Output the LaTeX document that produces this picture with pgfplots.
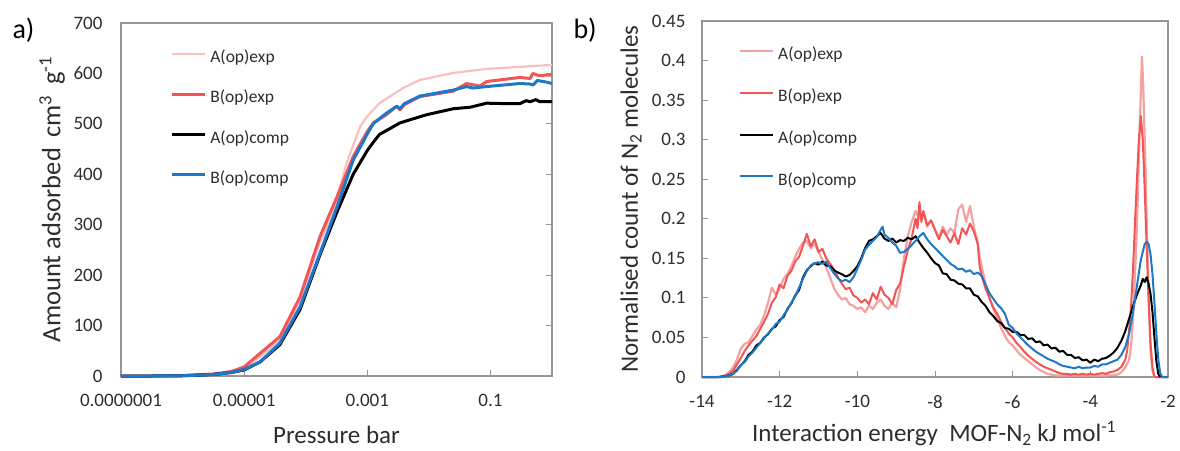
\documentclass[border=0pt]{standalone}
\usepackage{fontspec}
\setmainfont{Carlito}
\usepackage{pgfplots}
\pgfplotsset{compat=1.18}
\definecolor{pinkL}{RGB}{250,192,192}
\definecolor{pinkR}{RGB}{247,160,160}
\definecolor{redS}{RGB}{242,85,85}
\definecolor{blueS}{RGB}{30,120,200}
\definecolor{frame}{RGB}{150,150,150}
\definecolor{txt}{RGB}{45,45,45}
\begin{document}
\begin{tikzpicture}
\path[use as bounding box] (0,0) rectangle (1180pt,450pt);
\pgfplotsset{
  common/.style={
    scale only axis, clip=false,
    tick align=inside, major tick length=6pt,
    tick style={draw=frame, line width=1pt},
    axis line style={draw=frame, line width=1.3pt},
    tick label style={font=\fontsize{19}{22}\selectfont, text=txt},
    /pgf/number format/assume math mode=true,
    label style={font=\fontsize{25}{30}\selectfont, text=txt},
    xticklabel style={yshift=-15pt},
    legend cell align=left,
    legend image code/.code={\draw[##1] (0pt,0.3em) -- (33pt,0.3em); \path (37pt,0.3em);},
    every axis plot/.append style={line join=round},
  }
}
\begin{axis}[common,
  at={(121pt,74pt)}, anchor=south west, width=431pt, height=353pt,
  xmode=log, xmin=1e-7, xmax=1, ymin=0, ymax=700,
  xtick={1e-7,1e-5,1e-3,1e-1}, xticklabels={0.0000001,0.00001,0.001,0.1},
  xminorticks=false, yminorticks=false,
  ytick={0,100,200,300,400,500,600,700}, yticklabels={0,100,200,300,400,500,600,700},
  xtick pos=bottom, ytick pos=right, yticklabel pos=left,
  yticklabel style={xshift=-15pt},
  xlabel={Pressure bar},
  ylabel={Amount adsorbed\, cm\textsuperscript{3}\, g\textsuperscript{-1}},
  x label style={at={(axis description cs:0.5,-0.166)}, anchor=center},
  y label style={at={(axis description cs:-0.160,0.5)}, anchor=center, font=\fontsize{26.5}{30}\selectfont},
  legend style={at={(axis description cs:0.114,0.924)}, anchor=north west, draw=none, fill=none,
    inner sep=0pt, row sep=25.8pt, font=\fontsize{17.5}{21}\selectfont, text=txt, nodes={inner sep=0pt}},
]
\addplot[pinkL, line width=2.2pt] coordinates {(1e-7,0)(3.16e-7,0)(1e-6,1)(3.16e-6,3)(6.3e-6,8)(1e-5,15)(1.82e-5,38)(3.8e-5,70)(8.1e-5,150)(1.7e-4,265)(2.8e-4,323)(4.5e-4,418)(7.6e-4,494)(9.8e-4,514)(1.58e-3,541)(3.8e-3,571)(7.1e-3,587)(2.5e-2,601)(8.7e-2,609)(0.3,613)(1,617)};
\addlegendentry{A(op)exp}
\addplot[redS, line width=3pt] coordinates {(1e-7,0)(3.16e-7,0)(1e-6,1)(3.16e-6,4)(6.3e-6,9)(1e-5,18)(1.82e-5,45)(3.8e-5,78)(8.1e-5,157)(1.7e-4,276)(3.24e-4,356)(5.9e-4,435)(1e-3,485)(1.26e-3,502)(2.04e-3,518)(3e-3,535)(3.4e-3,528)(4e-3,538)(7.1e-3,554)(2.5e-2,565)(4.1e-2,580)(6.8e-2,575)(8.7e-2,584)(0.3,592)(0.44,590)(0.49,600)(0.6,596)(1,597)};
\addlegendentry{B(op)exp}
\addplot[black, line width=3pt] coordinates {(1e-7,0)(3.16e-7,0)(1e-6,0.5)(3.16e-6,3)(6.3e-6,7)(1e-5,12)(1.82e-5,28)(3.8e-5,62)(8.1e-5,132)(1.7e-4,240)(3.24e-4,326)(5.9e-4,400)(1e-3,447)(1.26e-3,464)(1.58e-3,479)(3.4e-3,502)(9.1e-3,518)(2.5e-2,530)(4.7e-2,533)(8.7e-2,541)(0.2,540)(0.3,540)(0.38,546)(0.44,544)(0.55,548)(0.63,544)(1,544)};
\addlegendentry{A(op)comp}
\addplot[blueS, line width=3pt] coordinates {(1e-7,0)(3.16e-7,0)(1e-6,0.5)(3.16e-6,3)(6.3e-6,7)(1e-5,13)(1.82e-5,28)(3.8e-5,65)(8.1e-5,137)(1.7e-4,243)(3.24e-4,336)(5.9e-4,428)(1e-3,480)(1.26e-3,501)(2.04e-3,521)(3e-3,535)(3.4e-3,530)(4e-3,540)(7.1e-3,555)(2.5e-2,567)(4.1e-2,574)(5.2e-2,571)(8.7e-2,574)(0.3,580)(0.44,579)(0.49,577)(0.58,586)(0.8,583)(1,580)};
\addlegendentry{B(op)comp}
\end{axis}
\begin{axis}[common,
  at={(702pt,73pt)}, anchor=south west, width=466pt, height=356pt,
  xmin=-14, xmax=-2, ymin=0, ymax=0.45,
  xtick={-14,-12,-10,-8,-6,-4,-2}, xticklabels={-14,-12,-10,-8,-6,-4,-2},
  ytick={0,0.05,0.1,0.15,0.2,0.25,0.3,0.35,0.4,0.45},
  yticklabels={0,0.05,0.1,0.15,0.2,0.25,0.3,0.35,0.4,0.45},
  xtick pos=bottom, ytick pos=left,
  yticklabel style={xshift=-13pt},
  xlabel={Interaction energy\ \ MOF-N\textsubscript{2} kJ mol\textsuperscript{-1}},
  ylabel={Normalised count of N\textsubscript{2} molecules},
  x label style={at={(axis description cs:0.498,-0.160)}, anchor=center},
  y label style={at={(axis description cs:-0.152,0.5)}, anchor=center},
  legend style={at={(axis description cs:0.079,0.928)}, anchor=north west, draw=none, fill=none,
    inner sep=0pt, row sep=27.5pt, font=\fontsize{17.5}{21}\selectfont, text=txt, nodes={inner sep=0pt}},
]
\addplot[pinkR, line width=2.2pt] coordinates {(-14,0)(-13.5,0)(-13.4,0.002)(-13.3,0.006)(-13.2,0.012)(-13.1,0.022)(-13.0,0.036)(-12.9,0.042)(-12.8,0.044)(-12.7,0.052)(-12.6,0.060)(-12.5,0.066)(-12.4,0.078)(-12.3,0.094)(-12.2,0.113)(-12.1,0.104)(-12.0,0.112)(-11.9,0.124)(-11.8,0.130)(-11.7,0.140)(-11.6,0.152)(-11.5,0.162)(-11.4,0.170)(-11.3,0.172)(-11.2,0.163)(-11.1,0.168)(-11.0,0.158)(-10.9,0.148)(-10.8,0.138)(-10.7,0.126)(-10.6,0.112)(-10.5,0.104)(-10.4,0.098)(-10.3,0.100)(-10.2,0.092)(-10.1,0.090)(-10.0,0.086)(-9.9,0.088)(-9.8,0.082)(-9.7,0.090)(-9.6,0.086)(-9.5,0.094)(-9.4,0.098)(-9.3,0.090)(-9.2,0.086)(-9.1,0.094)(-9.0,0.088)(-8.9,0.110)(-8.8,0.150)(-8.7,0.178)(-8.6,0.196)(-8.5,0.210)(-8.4,0.200)(-8.3,0.206)(-8.2,0.190)(-8.1,0.198)(-8.0,0.186)(-7.9,0.176)(-7.8,0.190)(-7.7,0.180)(-7.6,0.188)(-7.5,0.182)(-7.4,0.212)(-7.3,0.218)(-7.2,0.196)(-7.1,0.216)(-7.0,0.190)(-6.9,0.170)(-6.85,0.152)(-6.8,0.140)(-6.7,0.118)(-6.6,0.100)(-6.5,0.086)(-6.4,0.074)(-6.3,0.062)(-6.2,0.052)(-6.1,0.044)(-6.0,0.040)(-5.9,0.034)(-5.8,0.028)(-5.7,0.024)(-5.6,0.020)(-5.5,0.016)(-5.4,0.012)(-5.3,0.009)(-5.2,0.006)(-5.1,0.004)(-5.0,0.003)(-4.9,0.002)(-4.5,0.002)(-4.0,0.002)(-3.6,0.002)(-3.3,0.003)(-3.2,0.006)(-3.1,0.012)(-3.0,0.022)(-2.95,0.040)(-2.9,0.075)(-2.85,0.130)(-2.8,0.190)(-2.75,0.280)(-2.7,0.360)(-2.67,0.405)(-2.64,0.370)(-2.6,0.300)(-2.55,0.200)(-2.5,0.100)(-2.45,0.035)(-2.4,0.008)(-2.35,0)(-2.0,0)};
\addlegendentry{A(op)exp}
\addplot[redS, line width=2pt] coordinates {(-14,0)(-13.5,0)(-13.4,0.002)(-13.3,0.004)(-13.2,0.008)(-13.1,0.016)(-13.0,0.024)(-12.9,0.033)(-12.8,0.040)(-12.7,0.046)(-12.6,0.052)(-12.5,0.061)(-12.4,0.070)(-12.3,0.080)(-12.2,0.094)(-12.1,0.101)(-12.0,0.117)(-11.9,0.112)(-11.8,0.128)(-11.7,0.134)(-11.6,0.146)(-11.5,0.152)(-11.4,0.166)(-11.3,0.181)(-11.2,0.165)(-11.1,0.174)(-11.0,0.158)(-10.9,0.162)(-10.8,0.150)(-10.7,0.143)(-10.6,0.136)(-10.5,0.126)(-10.4,0.118)(-10.3,0.111)(-10.2,0.113)(-10.1,0.103)(-10.0,0.100)(-9.9,0.094)(-9.8,0.098)(-9.7,0.092)(-9.6,0.106)(-9.5,0.098)(-9.4,0.114)(-9.3,0.104)(-9.2,0.100)(-9.1,0.092)(-9.0,0.110)(-8.9,0.118)(-8.8,0.140)(-8.7,0.160)(-8.6,0.176)(-8.5,0.200)(-8.45,0.188)(-8.4,0.221)(-8.35,0.196)(-8.3,0.210)(-8.2,0.192)(-8.1,0.198)(-8.0,0.186)(-7.9,0.174)(-7.8,0.186)(-7.7,0.178)(-7.6,0.170)(-7.5,0.182)(-7.4,0.168)(-7.3,0.188)(-7.2,0.180)(-7.1,0.194)(-7.0,0.184)(-6.9,0.168)(-6.85,0.140)(-6.8,0.128)(-6.7,0.112)(-6.6,0.100)(-6.5,0.088)(-6.4,0.080)(-6.3,0.070)(-6.2,0.062)(-6.1,0.055)(-6.0,0.050)(-5.9,0.043)(-5.8,0.038)(-5.7,0.032)(-5.6,0.027)(-5.5,0.023)(-5.4,0.019)(-5.3,0.016)(-5.2,0.013)(-5.1,0.011)(-5.0,0.009)(-4.9,0.007)(-4.8,0.005)(-4.7,0.004)(-4.6,0.004)(-4.5,0.003)(-4.4,0.004)(-4.3,0.003)(-4.2,0.004)(-4.1,0.003)(-4.0,0.004)(-3.9,0.003)(-3.8,0.004)(-3.7,0.005)(-3.6,0.004)(-3.5,0.006)(-3.4,0.007)(-3.3,0.009)(-3.2,0.013)(-3.1,0.022)(-3.05,0.034)(-3.0,0.060)(-2.95,0.090)(-2.9,0.138)(-2.85,0.195)(-2.8,0.250)(-2.75,0.300)(-2.7,0.330)(-2.65,0.300)(-2.6,0.238)(-2.55,0.165)(-2.5,0.100)(-2.45,0.042)(-2.4,0.012)(-2.35,0)(-2.0,0)};
\addlegendentry{B(op)exp}
\addplot[black, line width=2pt] coordinates {(-14,0)(-13.6,0)(-13.4,0.001)(-13.3,0.002)(-13.2,0.004)(-13.1,0.009)(-13.0,0.015)(-12.9,0.020)(-12.8,0.028)(-12.7,0.032)(-12.6,0.040)(-12.5,0.043)(-12.4,0.050)(-12.3,0.054)(-12.2,0.061)(-12.1,0.064)(-12.0,0.072)(-11.9,0.076)(-11.8,0.086)(-11.7,0.093)(-11.6,0.103)(-11.5,0.110)(-11.4,0.126)(-11.3,0.135)(-11.2,0.140)(-11.1,0.144)(-11.0,0.142)(-10.9,0.146)(-10.8,0.141)(-10.7,0.140)(-10.6,0.135)(-10.5,0.132)(-10.4,0.130)(-10.3,0.127)(-10.2,0.129)(-10.1,0.134)(-10.0,0.140)(-9.9,0.150)(-9.8,0.163)(-9.7,0.172)(-9.6,0.174)(-9.5,0.178)(-9.4,0.182)(-9.3,0.175)(-9.2,0.172)(-9.1,0.175)(-9.0,0.170)(-8.9,0.173)(-8.8,0.172)(-8.7,0.176)(-8.6,0.174)(-8.5,0.178)(-8.4,0.170)(-8.3,0.163)(-8.2,0.157)(-8.1,0.150)(-8.0,0.144)(-7.9,0.141)(-7.8,0.131)(-7.7,0.130)(-7.6,0.123)(-7.5,0.122)(-7.4,0.118)(-7.3,0.117)(-7.2,0.112)(-7.1,0.112)(-7.0,0.104)(-6.9,0.102)(-6.8,0.095)(-6.7,0.090)(-6.6,0.082)(-6.5,0.077)(-6.4,0.071)(-6.3,0.068)(-6.2,0.062)(-6.1,0.061)(-6.0,0.057)(-5.9,0.057)(-5.8,0.053)(-5.7,0.053)(-5.6,0.048)(-5.5,0.049)(-5.4,0.044)(-5.3,0.045)(-5.2,0.040)(-5.1,0.041)(-5.0,0.036)(-4.9,0.037)(-4.8,0.032)(-4.7,0.033)(-4.6,0.028)(-4.5,0.028)(-4.4,0.024)(-4.3,0.025)(-4.2,0.021)(-4.1,0.022)(-4.0,0.018)(-3.9,0.022)(-3.8,0.020)(-3.7,0.023)(-3.6,0.024)(-3.5,0.027)(-3.4,0.031)(-3.3,0.037)(-3.2,0.046)(-3.1,0.058)(-3.0,0.074)(-2.9,0.090)(-2.8,0.104)(-2.7,0.116)(-2.65,0.124)(-2.6,0.120)(-2.55,0.126)(-2.5,0.118)(-2.45,0.105)(-2.4,0.082)(-2.35,0.050)(-2.3,0.020)(-2.25,0.004)(-2.2,0)};
\addlegendentry{A(op)comp}
\addplot[blueS, line width=2pt] coordinates {(-14,0)(-13.5,0)(-13.4,0.001)(-13.3,0.002)(-13.2,0.004)(-13.1,0.008)(-13.0,0.015)(-12.9,0.019)(-12.8,0.026)(-12.7,0.031)(-12.6,0.037)(-12.5,0.043)(-12.4,0.049)(-12.3,0.055)(-12.2,0.060)(-12.1,0.067)(-12.0,0.070)(-11.9,0.078)(-11.8,0.085)(-11.7,0.094)(-11.6,0.102)(-11.5,0.113)(-11.4,0.124)(-11.3,0.134)(-11.2,0.141)(-11.1,0.144)(-11.0,0.145)(-10.9,0.143)(-10.8,0.146)(-10.7,0.138)(-10.6,0.131)(-10.5,0.125)(-10.4,0.121)(-10.3,0.123)(-10.2,0.120)(-10.1,0.126)(-10.0,0.137)(-9.9,0.148)(-9.8,0.161)(-9.7,0.167)(-9.6,0.172)(-9.5,0.177)(-9.4,0.186)(-9.35,0.190)(-9.3,0.180)(-9.2,0.176)(-9.1,0.170)(-9.0,0.166)(-8.9,0.157)(-8.8,0.158)(-8.7,0.162)(-8.6,0.167)(-8.5,0.172)(-8.4,0.178)(-8.3,0.182)(-8.2,0.174)(-8.1,0.168)(-8.0,0.163)(-7.9,0.158)(-7.8,0.153)(-7.7,0.148)(-7.6,0.143)(-7.5,0.140)(-7.4,0.136)(-7.3,0.137)(-7.2,0.133)(-7.1,0.135)(-7.0,0.130)(-6.9,0.132)(-6.8,0.128)(-6.7,0.117)(-6.6,0.106)(-6.5,0.099)(-6.4,0.092)(-6.3,0.087)(-6.2,0.080)(-6.1,0.066)(-6.0,0.062)(-5.9,0.055)(-5.8,0.050)(-5.7,0.045)(-5.6,0.040)(-5.5,0.036)(-5.4,0.032)(-5.3,0.029)(-5.2,0.026)(-5.1,0.023)(-5.0,0.021)(-4.9,0.019)(-4.8,0.016)(-4.7,0.014)(-4.6,0.013)(-4.5,0.012)(-4.4,0.011)(-4.3,0.013)(-4.2,0.011)(-4.1,0.012)(-4.0,0.012)(-3.9,0.014)(-3.8,0.013)(-3.7,0.016)(-3.6,0.016)(-3.5,0.018)(-3.4,0.020)(-3.3,0.022)(-3.2,0.028)(-3.1,0.038)(-3.0,0.055)(-2.9,0.082)(-2.8,0.115)(-2.7,0.148)(-2.6,0.168)(-2.55,0.171)(-2.5,0.168)(-2.45,0.155)(-2.4,0.130)(-2.35,0.094)(-2.3,0.055)(-2.25,0.022)(-2.2,0.005)(-2.15,0)(-2.0,0)};
\addlegendentry{B(op)comp}
\end{axis}
\node[anchor=west, font=\fontsize{28}{32}\selectfont] at (9pt,420pt) {a)};
\node[anchor=west, font=\fontsize{28}{32}\selectfont] at (570pt,420pt) {b)};
\end{tikzpicture}
\end{document}
